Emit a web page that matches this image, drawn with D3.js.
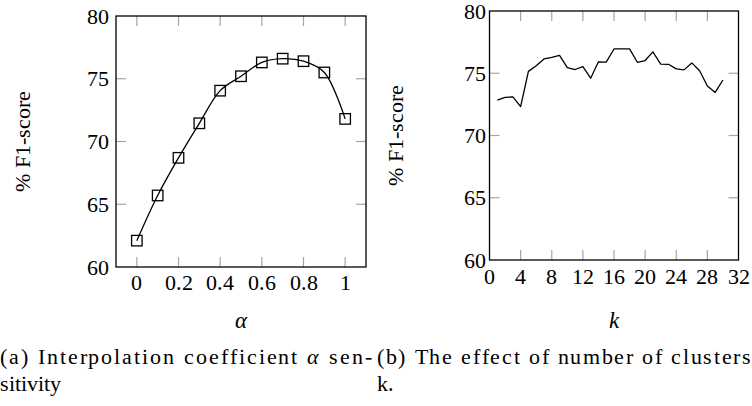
<!DOCTYPE html>
<html>
<head>
<meta charset="utf-8">
<script src="https://cdn.jsdelivr.net/npm/d3@7"></script>
<style>
  @font-face { font-family: "CMLike"; src: local("Liberation Serif"), local("LiberationSerif"); font-style: normal; }
  @font-face { font-family: "CMLike"; src: local("Liberation Serif Italic"), local("LiberationSerif-Italic"); font-style: italic; }
</style>
</head>
<body style="margin:0">
<svg id="fig" width="752" height="406"></svg>
<script>
// ---- Data ----
const alphaValues = [0, 0.1, 0.2, 0.3, 0.4, 0.5, 0.6, 0.7, 0.8, 0.9, 1.0];
const alphaF1 = [62.1, 65.7, 68.7, 71.45, 74.05, 75.2, 76.3, 76.6, 76.4, 75.5, 71.8];
const alphaTicks = [0, 0.2, 0.4, 0.6, 0.8, 1];
const alphaTickLabels = ["0", "0.2", "0.4", "0.6", "0.8", "1"];

const kValues = [1,2,3,4,5,6,7,8,9,10,11,12,13,14,15,16,17,18,19,20,21,22,23,24,25,26,27,28,29,30];
const kF1 = [72.85, 73.07, 73.1, 72.32, 75.15, 75.6, 76.15, 76.28, 76.43, 75.46, 75.3, 75.54, 74.6, 75.92, 75.9,
             76.95, 76.96, 76.96, 75.88, 76.02, 76.72, 75.74, 75.72, 75.35, 75.27, 75.83, 75.2, 73.98, 73.46, 74.46];
const kTicks = [0, 4, 8, 12, 16, 20, 24, 28, 32];

const yTicks = [60, 65, 70, 75, 80];

const yLabel = "% F1-score";
const captionA = ["(a) Interpolation coefficient ", "α", " sen-"];
const captionA2 = "sitivity";
const captionB = "(b) The effect of number of clusters";
const captionB2 = "k.";

const FONT = "CMLike, Liberation Serif, Tinos, Times New Roman, serif";
const ctx = document.createElement("canvas").getContext("2d");
ctx.font = `22px "Liberation Serif", monospace`; ctx.measureText("Interpolation 0.2 80 α k");
ctx.font = `italic 22px "Liberation Serif", monospace`; ctx.measureText("α k");

const svg = d3.select("#fig");
const tickColor = "#a6a6a6";
const tickLen = 10;

function txt(parent, size) {
  return parent.append("text").attr("font-family", FONT).style("font-family", FONT, "important")
    .attr("font-size", size).attr("fill", "#000");
}

function panel(opts) {
  const { left, right, top, bottom, xDomain, xTicks, xTickLabels, xs, ys, curve, markers,
          yLabelX, yLabelY, yTickGap, xTickBaseline, xTitle, xTitleX, xTitleY } = opts;
  const x = d3.scaleLinear().domain(xDomain).range([left, right]);
  const y = d3.scaleLinear().domain([60, 80]).range([bottom, top]);

  xTicks.forEach(t => {
    const px = x(t);
    if (px <= left + 0.5 || px >= right - 0.5) return;
    svg.append("line").attr("x1", px).attr("x2", px).attr("y1", bottom).attr("y2", bottom - tickLen)
      .attr("stroke", tickColor).attr("stroke-width", 1.2);
    svg.append("line").attr("x1", px).attr("x2", px).attr("y1", top).attr("y2", top + tickLen)
      .attr("stroke", tickColor).attr("stroke-width", 1.2);
  });
  yTicks.forEach(t => {
    const py = y(t);
    if (py <= top + 0.5 || py >= bottom - 0.5) return;
    svg.append("line").attr("x1", left).attr("x2", left + tickLen).attr("y1", py).attr("y2", py)
      .attr("stroke", tickColor).attr("stroke-width", 1.2);
    svg.append("line").attr("x1", right).attr("x2", right - tickLen).attr("y1", py).attr("y2", py)
      .attr("stroke", tickColor).attr("stroke-width", 1.2);
  });

  svg.append("rect").attr("x", left).attr("y", top).attr("width", right - left).attr("height", bottom - top)
    .attr("fill", "none").attr("stroke", "#000").attr("stroke-width", 1.3);

  xTicks.forEach((t, i) => {
    txt(svg, 22).attr("x", x(t)).attr("y", xTickBaseline).attr("text-anchor", "middle")
      .text(xTickLabels ? xTickLabels[i] : String(t));
  });
  yTicks.forEach(t => {
    txt(svg, 22).attr("x", left - yTickGap).attr("y", y(t) + 7.5).attr("text-anchor", "end").text(String(t));
  });

  const line = d3.line().x((d, i) => x(xs[i])).y(d => y(d)).curve(curve);
  svg.append("path").datum(ys).attr("d", line).attr("fill", "none").attr("stroke", "#000").attr("stroke-width", 1.3)
    .attr("stroke-linejoin", "round");

  if (markers) {
    const s = 10.5;
    ys.forEach((d, i) => {
      svg.append("rect").attr("x", x(xs[i]) - s / 2).attr("y", y(d) - s / 2)
        .attr("width", s).attr("height", s).attr("fill", "none").attr("stroke", "#000").attr("stroke-width", 1.3);
    });
  }

  txt(svg, 22).attr("transform", `translate(${yLabelX},${yLabelY}) rotate(-90)`)
    .attr("text-anchor", "middle").text(yLabel);
  txt(svg, 23).attr("x", xTitleX).attr("y", xTitleY).attr("text-anchor", "middle")
    .attr("font-style", "italic").style("font-style", "italic").text(xTitle);
}

panel({
  left: 116, right: 366, top: 16, bottom: 267,
  xDomain: [-0.1, 1.1], xTicks: alphaTicks, xTickLabels: alphaTickLabels,
  xs: alphaValues, ys: alphaF1, curve: d3.curveCatmullRom.alpha(0.5), markers: true,
  yLabelX: 30, yLabelY: 141, yTickGap: 7, xTickBaseline: 290,
  xTitle: "α", xTitleX: 241, xTitleY: 328
});

panel({
  left: 489.5, right: 738.5, top: 11, bottom: 260,
  xDomain: [0, 32], xTicks: kTicks, xTickLabels: null,
  xs: kValues, ys: kF1, curve: d3.curveLinear, markers: false,
  yLabelX: 403, yLabelY: 135, yTickGap: 4, xTickBaseline: 284,
  xTitle: "k", xTitleX: 614, xTitleY: 328
});

const capSize = 22;
const c1 = txt(svg, capSize).attr("x", 0).attr("y", 364).attr("textLength", 372).attr("lengthAdjust", "spacing");
c1.append("tspan").text(captionA[0]);
c1.append("tspan").attr("font-style", "italic").style("font-style", "italic").text(captionA[1]);
c1.append("tspan").text(captionA[2]);
txt(svg, capSize).attr("x", 0).attr("y", 391).text(captionA2);

txt(svg, capSize).attr("x", 377).attr("y", 364).attr("textLength", 374).attr("lengthAdjust", "spacing").text(captionB);
txt(svg, capSize).attr("x", 377).attr("y", 391).text(captionB2);
</script>
</body>
</html>
